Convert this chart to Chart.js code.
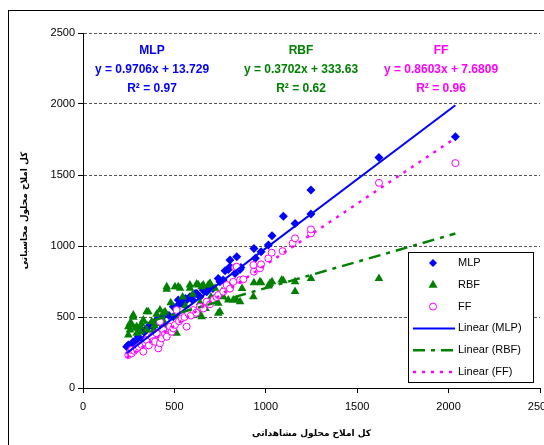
<!DOCTYPE html>
<html>
<head>
<meta charset="utf-8">
<script src="https://cdn.jsdelivr.net/npm/chart.js@4/dist/chart.umd.min.js"></script>
<style>
   html, body { margin: 0; padding: 0; background: #fff; overflow: hidden; }
   #wrap { width: 544px; height: 445px; overflow: hidden; position: relative; }
   #ScatterChart { display: block; width: 570px; height: 460px; }
</style>
</head>
<body>
<div id="wrap"><canvas id="ScatterChart" width="570" height="460"></canvas></div>
<script>
// observed vs computed salinity, [observed, computed]
var mlpPoints = [
   [239,291],[248,303],[262,290],[275,315],[275,326],[290,335],[303,361],[321,408],[330,338],[335,392],
   [350,420],[366,444],[385,373],[385,430],[403,479],[420,465],[439,432],[435,500],[449,526],[470,510],
   [494,502],[494,572],[510,560],[521,584],[521,620],[540,600],[560,630],[567,620],[585,643],[600,620],
   [613,666],[622,666],[640,643],[658,690],[660,690],[677,678],[695,713],[710,700],[740,772],[749,748],
   [767,760],[777,826],[795,835],[804,854],[804,901],[832,807],[841,925],[859,835],[864,849],[935,983],
   [943,913],[974,960],[1014,1007],[1034,1072],[1096,1209],[1160,1159],[1247,1225],[1247,1394],[1619,1624],[2037,1769]
];
var rbfPoints = [
   [248,373],[248,432],[257,408],[257,455],[262,460],[275,498],[275,514],[285,420],[294,385],[294,432],
   [312,396],[312,432],[320,450],[330,479],[348,408],[348,537],[357,537],[376,467],[385,408],[390,440],
   [403,455],[403,520],[421,549],[439,526],[440,470],[449,537],[458,432],[458,695],[458,713],[480,600],
   [503,713],[512,385],[521,502],[521,713],[531,702],[545,640],[560,580],[585,702],[585,725],[600,660],
   [622,732],[631,725],[640,514],[640,600],[649,502],[649,713],[658,725],[670,560],[685,725],[695,737],
   [700,640],[722,702],[740,526],[740,596],[749,537],[760,680],[767,643],[795,620],[800,720],[822,620],
   [841,620],[859,608],[870,700],[932,643],[935,741],[968,748],[974,741],[1014,718],[1023,737],[1034,748],
   [1087,760],[1096,755],[1160,680],[1160,748],[1247,772],[1619,772]
];
var ffPoints = [
   [248,232],[257,250],[266,244],[266,268],[280,262],[294,279],[305,290],[321,303],[330,256],[340,320],
   [348,338],[360,300],[376,361],[385,330],[394,326],[403,385],[412,279],[421,315],[421,467],[430,350],
   [439,408],[449,380],[458,361],[476,432],[485,396],[494,420],[503,444],[512,549],[525,470],[540,491],
   [555,500],[567,432],[576,526],[590,510],[603,549],[620,530],[640,572],[658,560],[677,608],[695,590],
   [713,620],[730,640],[740,655],[767,678],[786,725],[804,700],[822,748],[832,849],[841,854],[859,760],
   [877,765],[932,866],[935,819],[968,843],[974,871],[1014,913],[1032,953],[1092,964],[1147,1019],[1160,1054],
   [1247,1089],[1247,1117],[1619,1445],[2037,1584]
];

// fitted lines: [slope, intercept, R2]
var mlpFit = [0.9706, 13.729, 0.97];
var rbfFit = [0.3702, 333.63, 0.62];
var ffFit = [0.8603, 7.6809, 0.96];

var seriesNames = ["MLP", "RBF", "FF"];
var axisMin = 0, axisMax = 2500, axisStep = 500;
var xTitle = "کل املاح محلول مشاهداتی";
var yTitle = "کل املاح محلول محاسباتی";

var BLUE = '#0000FF', GREEN = '#008000', PINK = '#FF00FF';

// all three models are checked against the same observed range
var observed = mlpPoints.concat(rbfPoints, ffPoints).map(function(p){ return p[0]; });
var obsLo = Math.min.apply(null, observed), obsHi = Math.max.apply(null, observed);

function trendLine(fit) {
   return [[obsLo, fit[0] * obsLo + fit[1]], [obsHi, fit[0] * obsHi + fit[1]]];
}

function fmtFit(fit) {
   return 'y = ' + fit[0] + 'x + ' + fit[1];
}

// white background + chart frame
var framePlugin = {
   id: 'frame',
   beforeDraw: function(chart) {
      var ctx = chart.ctx;
      ctx.save();
      ctx.fillStyle = '#fff';
      ctx.fillRect(0, 0, chart.width, chart.height);
      ctx.strokeStyle = '#000';
      ctx.lineWidth = 1;
      ctx.strokeRect(8.5, 10.5, chart.width, chart.height);
      ctx.restore();
   }
};

// equations above the points
var fitTextPlugin = {
   id: 'fitText',
   afterDraw: function(chart) {
      var ctx = chart.ctx;
      var blocks = [
         {name: seriesNames[0], fit: mlpFit, color: BLUE, x: 152},
         {name: seriesNames[1], fit: rbfFit, color: GREEN, x: 301},
         {name: seriesNames[2], fit: ffFit, color: PINK, x: 441}
      ];
      ctx.save();
      ctx.font = 'bold 12px "Liberation Sans", Arial, sans-serif';
      ctx.textAlign = 'center';
      ctx.textBaseline = 'middle';
      blocks.forEach(function(b) {
         ctx.fillStyle = b.color;
         ctx.fillText(b.name, b.x, 51);
         ctx.fillText(fmtFit(b.fit), b.x, 70);
         ctx.fillText('R² = ' + b.fit[2], b.x, 89);
      });
      ctx.restore();
   }
};

function drawMarker(ctx, style, x, y) {
   ctx.beginPath();
   if (style === 'rectRot') {
      ctx.moveTo(x, y - 4); ctx.lineTo(x + 4, y); ctx.lineTo(x, y + 4); ctx.lineTo(x - 4, y);
      ctx.closePath(); ctx.fill();
   } else if (style === 'triangle') {
      ctx.moveTo(x, y - 5); ctx.lineTo(x + 4.5, y + 3); ctx.lineTo(x - 4.5, y + 3);
      ctx.closePath(); ctx.fill();
   } else {
      ctx.arc(x, y, 3.5, 0, Math.PI * 2);
      ctx.fillStyle = '#fff'; ctx.fill(); ctx.stroke();
   }
}

// boxed legend inside the plot
var legendBoxPlugin = {
   id: 'legendBox',
   afterDraw: function(chart) {
      var ctx = chart.ctx;
      var sets = chart.data.datasets;
      var bx = 408.5, by = 252.5, bw = 125, bh = 130;
      ctx.save();
      ctx.fillStyle = '#fff';
      ctx.fillRect(bx, by, bw, bh);
      ctx.strokeStyle = '#000';
      ctx.lineWidth = 1;
      ctx.strokeRect(bx, by, bw, bh);
      ctx.font = '11px "Liberation Sans", Arial, sans-serif';
      ctx.textBaseline = 'middle';
      ctx.textAlign = 'left';
      sets.forEach(function(ds, i) {
         var y = 263 + i * 21.8;
         ctx.save();
         if (ds.showLine) {
            ctx.strokeStyle = ds.borderColor;
            ctx.lineWidth = ds.borderWidth;
            ctx.setLineDash(ds.borderDash || []);
            ctx.beginPath();
            ctx.moveTo(413, y);
            ctx.lineTo(455, y);
            ctx.stroke();
         } else {
            ctx.fillStyle = ds.backgroundColor;
            ctx.strokeStyle = ds.borderColor;
            drawMarker(ctx, ds.pointStyle, 433, y);
         }
         ctx.restore();
         ctx.fillStyle = '#000';
         ctx.fillText(ds.label, 458, y);
      });
      ctx.restore();
   }
};

var tickFont = { family: '"Liberation Sans", Arial, sans-serif', size: 11 };
var titleFont = { family: '"DejaVu Sans", sans-serif', size: 9, weight: 'bold' };
var plainTick = function(value) { return String(value); };

var ScatterChart = new Chart(document.getElementById('ScatterChart').getContext('2d'), {
   type: 'scatter',
   data: {
      datasets: [{
         label: seriesNames[0],
         data: mlpPoints,
         pointStyle: 'rectRot',
         pointRadius: 4.5,
         backgroundColor: BLUE,
         borderColor: BLUE,
         borderWidth: 0,
         order: 6
      }, {
         label: seriesNames[1],
         data: rbfPoints,
         pointStyle: 'triangle',
         pointRadius: 5,
         backgroundColor: GREEN,
         borderColor: GREEN,
         borderWidth: 0,
         order: 5
      }, {
         label: seriesNames[2],
         data: ffPoints,
         pointStyle: 'circle',
         pointRadius: 3.5,
         backgroundColor: '#fff',
         borderColor: PINK,
         borderWidth: 1,
         order: 4
      }, {
         label: 'Linear (' + seriesNames[0] + ')',
         data: trendLine(mlpFit),
         showLine: true,
         pointRadius: 0,
         borderColor: BLUE,
         borderWidth: 2,
         order: 3
      }, {
         label: 'Linear (' + seriesNames[1] + ')',
         data: trendLine(rbfFit),
         showLine: true,
         pointRadius: 0,
         borderColor: GREEN,
         borderWidth: 2.5,
         borderDash: [12, 6, 4, 6],
         order: 2
      }, {
         label: 'Linear (' + seriesNames[2] + ')',
         data: trendLine(ffFit),
         showLine: true,
         pointRadius: 0,
         borderColor: PINK,
         borderWidth: 2.5,
         borderDash: [3, 6],
         order: 1
      }]
   },
   options: {
      responsive: false,
      animation: false,
      devicePixelRatio: 1,
      layout: { padding: { left: 0, top: 33, right: 30, bottom: 0 } },
      plugins: {
         legend: { display: false },
         tooltip: { enabled: false }
      },
      scales: {
         x: {
            type: 'linear',
            min: axisMin,
            max: axisMax,
            ticks: { stepSize: axisStep, color: '#000', font: tickFont, padding: 7, maxRotation: 0, callback: plainTick },
            grid: { drawOnChartArea: false, tickLength: 5, tickColor: '#000', color: '#000' },
            border: { color: '#000', width: 1 },
            title: { display: true, text: xTitle, color: '#000', font: titleFont, padding: { top: 0, bottom: 21 } },
            afterFit: function(scale) { scale.height = 72; }
         },
         y: {
            min: axisMin,
            max: axisMax,
            ticks: { stepSize: axisStep, color: '#000', font: tickFont, padding: 3, callback: plainTick },
            grid: { color: '#555', lineWidth: 1, tickLength: 5, tickColor: '#000' },
            border: { color: '#000', width: 1, dash: [3, 2] },
            title: { display: true, text: yTitle, color: '#000', font: titleFont, padding: { top: 19, bottom: 0 } },
            afterFit: function(scale) { scale.width = 83; }
         }
      }
   },
   plugins: [framePlugin, fitTextPlugin, legendBoxPlugin]
});
</script>
</body>
</html>
